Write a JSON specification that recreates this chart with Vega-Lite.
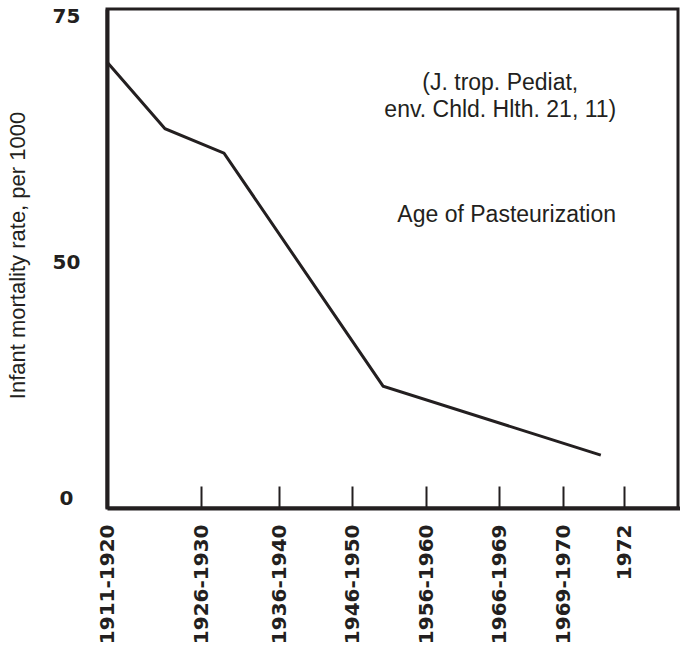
{
  "$schema": "https://vega.github.io/schema/vega-lite/v6.json",
  "autosize": "none",
  "width": 571,
  "height": 499,
  "padding": {"left": 107, "top": 9, "right": 2, "bottom": 145},
  "background": "white",
  "config": {
    "view": {"stroke": "#231f20", "strokeWidth": 3},
    "axis": {"grid": false}
  },
  "datasets": {
    "series": [
      {"period": 0, "rate": 70.4},
      {"period": 0.617, "rate": 63.6},
      {"period": 1.295, "rate": 61.1},
      {"period": 3.42, "rate": 23.7},
      {"period": 6.62, "rate": 9.1}
    ],
    "notes": [
      {"period": 5.02, "rate": 68.25, "label": "(J. trop. Pediat,"},
      {"period": 5.02, "rate": 65.5, "label": "env. Chld. Hlth. 21, 11)"},
      {"period": 5.12, "rate": 54.8, "label": "Age of Pasteurization"}
    ]
  },
  "layer": [
    {
      "data": {"name": "series"},
      "mark": {"type": "line", "color": "#231f20", "strokeWidth": 3},
      "encoding": {
        "x": {
          "field": "period",
          "type": "quantitative",
          "scale": {"type": "linear", "domain": [0, 1, 2, 3, 4, 5, 6, 7, 8], "range": [0, 94, 172, 245, 319, 392, 456, 517, 578], "nice": false, "zero": false},
          "axis": {
            "title": null,
            "values": [0, 1, 2, 3, 4, 5, 6, 7],
            "labelExpr": "['1911-1920','1926-1930','1936-1940','1946-1950','1956-1960','1966-1969','1969-1970','1972'][datum.value]",
            "domainColor": "#231f20",
            "domainWidth": 4,
            "tickColor": "#231f20",
            "tickWidth": 2,
            "tickSize": -22,
            "labelAngle": -90,
            "labelAlign": "right",
            "labelBaseline": "middle",
            "labelPadding": 38,
            "labelFont": "DejaVu Sans",
            "labelFontWeight": "bold",
            "labelFontSize": 20,
            "labelColor": "#231f20",
            "labelFlush": false,
            "labelOverlap": false
          }
        },
        "y": {
          "field": "rate",
          "type": "quantitative",
          "scale": {"type": "linear", "domain": [-2.1, 50, 75.8], "range": [499, 253, 0], "nice": false, "zero": false},
          "axis": {
            "title": "Infant mortality rate, per 1000",
            "values": [0, 50, 75],
            "ticks": false,
            "domainColor": "#231f20",
            "domainWidth": 4,
            "labelAlign": "center",
            "labelBaseline": "middle",
            "labelPadding": 41,
            "labelFont": "DejaVu Sans",
            "labelFontWeight": "bold",
            "labelFontSize": 20,
            "labelColor": "#231f20",
            "labelFlush": false,
            "labelOverlap": false,
            "titleFont": "Liberation Sans",
            "titleFontWeight": "normal",
            "titleFontSize": 22,
            "titleColor": "#231f20",
            "titleX": -90,
            "titleY": 246,
            "titleAngle": -90,
            "titleAlign": "center",
            "titleBaseline": "middle"
          }
        }
      }
    },
    {
      "data": {"name": "notes"},
      "mark": {"type": "text", "font": "Liberation Sans", "fontSize": 23, "color": "#231f20", "align": "center", "baseline": "middle"},
      "encoding": {
        "x": {"field": "period", "type": "quantitative"},
        "y": {"field": "rate", "type": "quantitative"},
        "text": {"field": "label"}
      }
    }
  ]
}
